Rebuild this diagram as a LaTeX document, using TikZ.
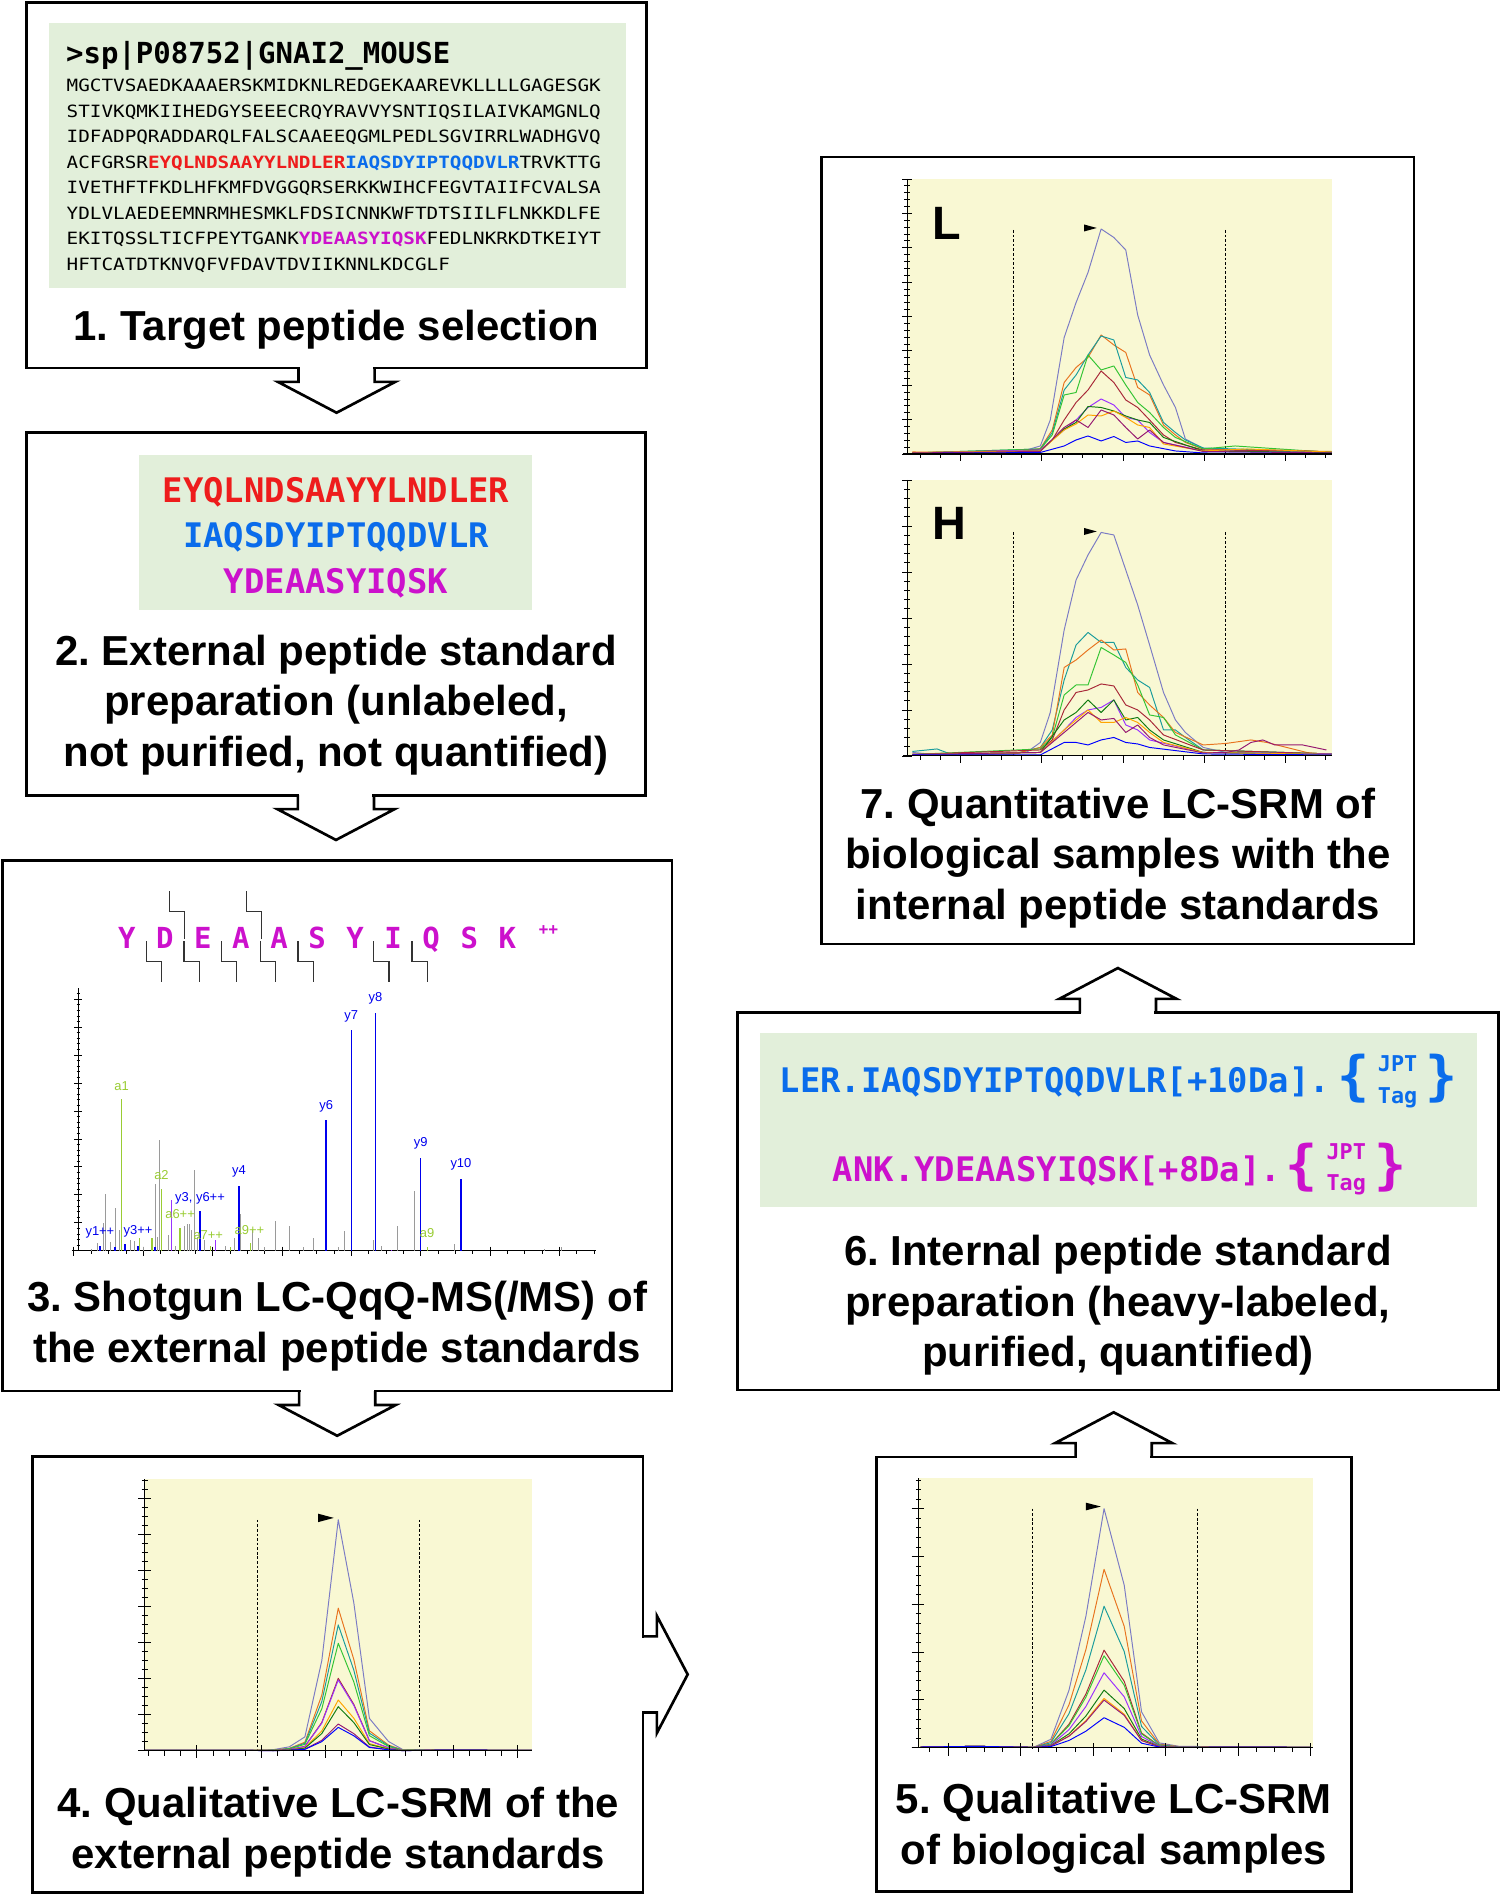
\documentclass[tikz,border=0pt]{standalone}
\usepackage{fontspec}
\setmainfont{Liberation Sans}
\newfontfamily\monofont{DejaVu Sans Mono}
\newfontfamily\seqfont{DejaVu Sans Mono}[FakeStretch=1.14]
\usetikzlibrary{calc}
\frenchspacing

\definecolor{pepred}{HTML}{EE1C1C}
\definecolor{pepblue}{HTML}{0A6CEB}
\definecolor{pepmag}{HTML}{CC11CC}
\definecolor{panelgreen}{HTML}{E2EFDA}
\definecolor{plotyellow}{HTML}{F9F8D3}
\definecolor{ionblue}{HTML}{0000EE}
\definecolor{iongreen}{HTML}{99CC33}
\definecolor{ionpurple}{HTML}{9933FF}
\definecolor{iongray}{HTML}{9A9A9A}
\definecolor{trlav}{HTML}{7B7BC4}
\definecolor{trorange}{HTML}{E8731E}
\definecolor{trteal}{HTML}{1A9C9C}
\definecolor{trgreen}{HTML}{33C433}
\definecolor{trred}{HTML}{A82838}
\definecolor{trpurple}{HTML}{9B30FF}
\definecolor{tryellow}{HTML}{FFA500}
\definecolor{trdkgreen}{HTML}{107A10}
\definecolor{trmag}{HTML}{961870}
\definecolor{trblue}{HTML}{0000FF}

\newcommand{\titlefont}{\fontsize{34.7}{42}\selectfont\bfseries}
% open block arrow leaving a box edge
\newcommand{\flowarrow}[2]{%
  \begin{scope}[shift={(#1)}, rotate=#2]
    \fill[white] (-30.2,-2.5) rectangle (30.2,10);
    \draw[line width=2.2pt, line join=miter] (-31.5,0) -- (-31.5,11.5) -- (-48.5,11.5) -- (0,37) -- (48.5,11.5) -- (31.5,11.5) -- (31.5,0);
  \end{scope}}

\begin{document}
\begin{tikzpicture}[x=1pt, y=-1pt,
  stepbox/.style={draw, line width=2.2pt, anchor=north west, inner sep=0pt, outer sep=0pt},
  steptitle/.style={font=\titlefont, align=center, anchor=north, inner sep=0pt},
  srmtrace/.style={line width=0.8pt, line join=round},
  axisline/.style={line width=0.9pt},
  axtick/.style={line width=0.7pt},
  bound/.style={dash pattern=on 2.2pt off 1.6pt, line width=0.8pt},
  ionlab/.style={font=\fontsize{10.7}{12}\selectfont, inner sep=0pt},
  frag/.style={line width=0.9pt, black!80},
  peplet/.style={font={\fontsize{24}{26}\monofont\bfseries}, text=pepmag, anchor=base, inner sep=0pt},
  brace/.style={font={\fontsize{44}{44}\monofont\bfseries}, anchor=base, inner sep=0pt},
  tagtext/.style={font={\fontsize{18}{26}\monofont\bfseries}, align=center, anchor=north, inner sep=0pt}]

\useasboundingbox (0,0) rectangle (1241,1568);

% step boxes
\node[stepbox, minimum width=513pt, minimum height=302.5pt] (box1) at (22,2) {};
\node[stepbox, minimum width=512pt, minimum height=300pt] (box2) at (22,358) {};
\node[stepbox, minimum width=554pt, minimum height=439pt] (box3) at (2,712) {};
\node[stepbox, minimum width=505pt, minimum height=361pt] (box4) at (27,1205) {};
\node[stepbox, minimum width=393pt, minimum height=359.4pt] (box5) at (725,1205.6) {};
\node[stepbox, minimum width=630pt, minimum height=312pt] (box6) at (610,838) {};
\node[stepbox, minimum width=490pt, minimum height=651pt] (box7) at (680,130) {};

% flow arrows
\flowarrow{box1.south}{0}
\flowarrow{box2.south}{0}
\flowarrow{box3.south}{0}
\flowarrow{box4.east}{90}
\flowarrow{box5.north}{180}
\flowarrow{box6.north}{180}

% 1: protein sequence
\fill[panelgreen] (40.5,19.4) rectangle (517.6,238.2);
\node[anchor=base west, inner sep=0pt, font={\fontsize{24}{26}\monofont\bfseries}] (fasta) at (54.5,52.5) {>sp|P08752|GNAI2\_MOUSE};
\node[anchor=north west, inner sep=0pt, align=left, font={\fontsize{14}{21.1}\seqfont}] (seq) at (55,65.5) {MGCTVSAEDKAAAERSKMIDKNLREDGEKAAREVKLLLLGAGESGK\\
STIVKQMKIIHEDGYSEEECRQYRAVVYSNTIQSILAIVKAMGNLQ\\
IDFADPQRADDARQLFALSCAAEEQGMLPEDLSGVIRRLWADHGVQ\\
ACFGRSR{\bfseries\color{pepred}EYQLNDSAAYYLNDLER}{\bfseries\color{pepblue}IAQSDYIPTQQDVLR}TRVKTTG\\
IVETHFTFKDLHFKMFDVGGQRSERKKWIHCFEGVTAIIFCVALSA\\
YDLVLAEDEEMNRMHESMKLFDSICNNKWFTDTSIILFLNKKDLFE\\
EKITQSSLTICFPEYTGANK{\bfseries\color{pepmag}YDEAASYIQSK}FEDLNKRKDTKEIYT\\
HFTCATDTKNVQFVFDAVTDVIIKNNLKDCGLF};
\node[steptitle] (title1) at (278.5,256.2) {1. Target peptide selection};

% 2: external standards
\fill[panelgreen] (115.4,376.3) rectangle (440,504.8);
\node[anchor=north, inner sep=0pt, align=center, font={\fontsize{28}{37.4}\monofont\bfseries}] (peps) at (278,394.9) {\textcolor{pepred}{EYQLNDSAAYYLNDLER}\\\textcolor{pepblue}{IAQSDYIPTQQDVLR}\\\textcolor{pepmag}{YDEAASYIQSK}};
\node[steptitle] (title2) at (278,525) {2. External peptide standard\\preparation (unlabeled,\\not purified, not quantified)};

% 3: MS/MS spectrum
\begin{scope}[xshift=0.2pt, yshift=-702.4pt, x=0.3586pt, y=-0.2917pt]
  \foreach \aa [count=\i] in {Y,D,E,A,A,S,Y,I,Q,S,K}
    \node[peplet] (aa\i) at ({292+87.8*(\i-1)},282) {\aa};
  \node[font={\fontsize{14}{14}\selectfont\bfseries}, text=pepmag, inner sep=0pt] (charge) at (1265,233) {++};
  \foreach \bx in {337,424,511,600,687,862,950}
    \draw[frag] (\bx,262) -- (\bx,320) -- (\bx+35,320) -- (\bx+35,378);
  \foreach \bx in {390,568}
    \draw[frag] (\bx,120) -- (\bx,178) -- (\bx+35,178) -- (\bx+35,255);
  % axes
  \draw[axisline] (180,395) -- (180,1140);
  \foreach \k in {0,...,46} \draw[axtick] (176,{1140-15.86*\k}) -- (184,{1140-15.86*\k});
  \foreach \k in {0,...,9} \draw[axtick] (171,{1140-79.3*\k}) -- (189,{1140-79.3*\k});
  \draw[axisline] (165,1140) -- (1375,1140);
  \foreach \k in {0,...,30} \draw[axtick] ({170+40*\k},1140) -- ({170+40*\k},1150);
  \foreach \k in {0,...,7} \draw[axtick] ({170+160*\k},1128) -- ({170+160*\k},1155);
  % peaks
  \foreach \px/\py in {243/980,265/1020,239/1060,253/1115,275/1080,300/1110,367/825,357/950,362/1100,387/1095,432/1065,437/1063,442/1080,447/910,455/1100,470/1110,540/1105,555/1035,582/1080,596/1105,610/1130,635/1055,668/1070,700/1130,722/1105,780/1130,795/1085,860/1110,880/1125,917/1070,955/970,1048/1120,1255/1135,1295/1130,210/1135,225/1118,310/1112,330/1128,405/1125,425/1070,520/1125}
    \draw[iongray, line width=0.6pt] (\px,1140) -- (\px,\py);
  \foreach \px/\py in {280/710,372/965,350/1105,322/1105,415/1075,485/1125,577/1118,532/1128,985/1130}
    \draw[iongreen, line width=1pt] (\px,1140) -- (\px,\py);
  \foreach \px/\py in {395/995,497/1108,903/1137}
    \draw[ionpurple, line width=1pt] (\px,1140) -- (\px,\py);
  \foreach \px/\py in {866/465,810/513,752/770,970/876,1063/935,551/955,461/1027,230/1125,265/1130,288/1120,318/1125,357/1130,752/1115}
    \draw[ionblue, line width=1.1pt] (\px,1140) -- (\px,\py);
  % ion labels
  \node[ionlab, text=ionblue] (y8) at (866,425) {y8};
  \node[ionlab, text=ionblue] (y7) at (810,475) {y7};
  \node[ionlab, text=ionblue] (y6) at (752,730) {y6};
  \node[ionlab, text=ionblue] (y9) at (970,835) {y9};
  \node[ionlab, text=ionblue] (y10) at (1063,895) {y10};
  \node[ionlab, text=ionblue] (y4) at (551,915) {y4};
  \node[ionlab, text=ionblue] (y3y6) at (461,990) {y3, y6++};
  \node[ionlab, text=ionblue] (y1) at (230,1088) {y1++};
  \node[ionlab, text=ionblue] (y3) at (318,1085) {y3++};
  \node[ionlab, text=iongreen] (a1) at (280,672) {a1};
  \node[ionlab, text=iongreen] (a2) at (372,925) {a2};
  \node[ionlab, text=iongreen] (a6) at (415,1037) {a6++};
  \node[ionlab, text=iongreen] (a7) at (480,1095) {a7++};
  \node[ionlab, text=iongreen] (a9pp) at (575,1082) {a9++};
  \node[ionlab, text=iongreen] (a9) at (985,1090) {a9};
\end{scope}
\node[steptitle] (title3) at (279,1059.7) {3. Shotgun LC-QqQ-MS(/MS) of\\the external peptide standards};

% 4: qualitative SRM of standards
\begin{scope}[xshift=1.97pt, yshift=-1191.2pt, x=0.3681pt, y=-0.2762pt]
  \fill[plotyellow] (320,118) rectangle (1190,932);
  \draw[bound] (573,240) -- (573,932);
  \draw[bound] (937,240) -- (937,932);
  \foreach \col/\ht in {trlav/692,trorange/427,trteal/377,trgreen/322,trred/217,trpurple/212,tryellow/152,trdkgreen/132,trmag/80,trblue/70}
    \draw[srmtrace,\col] (320,931) -- (540,931) -- (610,{932-0.005*\ht}) -- (645,{932-0.017*\ht}) -- (680,{932-0.06*\ht}) -- (718,{932-0.39*\ht}) -- (755,{932-\ht}) -- (790,{932-0.64*\ht}) -- (825,{932-0.14*\ht}) -- (868,{932-0.04*\ht}) -- (900,{932-0.005*\ht}) -- (1000,930) -- (1190,931);
  \fill (710,222) -- (745,234.5) -- (710,247) -- cycle;
  \draw[axisline] (320,118) -- (320,932);
  \foreach \k in {0,...,30} \draw[axtick] (313,{932-27*\k}) -- (327,{932-27*\k});
  \foreach \k in {0,...,7} \draw[axtick] (305,{932-107.8*\k}) -- (333,{932-107.8*\k});
  \draw[axisline] (305,932) -- (1190,932);
  \foreach \k in {0,...,23} \draw[axtick] ({329+36.08*\k},932) -- ({329+36.08*\k},948);
  \foreach \k in {0,...,5} \draw[axtick] ({437+144.3*\k},915) -- ({437+144.3*\k},955);
\end{scope}
\node[steptitle] (title4) at (280,1478.4) {4. Qualitative LC-SRM of the\\external peptide standards};

% 5: qualitative SRM of samples
\begin{scope}[xshift=711.7pt, yshift=-1190.5pt, x=0.3336pt, y=-0.2754pt]
  \fill[plotyellow] (145,118) rectangle (1122,928);
  \draw[bound] (428,210) -- (428,928);
  \draw[bound] (836,210) -- (836,928);
  \foreach \col/\ht in {trlav/718,trorange/536,trteal/425,trred/293,trgreen/276,trpurple/225,trdkgreen/173,tryellow/148,trmag/143,trblue/90}
    \draw[srmtrace,\col] (150,926) -- (290,924) -- (430,927) -- (473,{928-0.035*\ht}) -- (518,{928-0.24*\ht}) -- (560,{928-0.55*\ht}) -- (605,{928-\ht}) -- (655,{928-0.68*\ht}) -- (698,{928-0.15*\ht}) -- (742,{928-0.02*\ht}) -- (790,{928-0.006*\ht}) -- (930,926) -- (1118,927);
  \fill (560,192) -- (597,203.5) -- (560,215) -- cycle;
  \draw[axisline] (145,118) -- (145,928);
  \foreach \k in {0,...,28} \draw[axtick] (138,{928-28.72*\k}) -- (152,{928-28.72*\k});
  \foreach \k in {0,...,5} \draw[axtick] (128,{928-143.6*\k}) -- (158,{928-143.6*\k});
  \draw[axisline] (128,928) -- (1122,928);
  \foreach \k in {0,...,21} \draw[axtick] ({173+45*\k},928) -- ({173+45*\k},942);
  \foreach \k in {0,...,5} \draw[axtick] ({218+180*\k},915) -- ({218+180*\k},952);
\end{scope}
\node[steptitle] (title5) at (921.5,1475.5) {5. Qualitative LC-SRM\\of biological samples};

% 6: internal standards
\fill[panelgreen] (628.7,854.9) rectangle (1222.5,998.9);
\node[anchor=base west, inner sep=0pt, font={\fontsize{28}{30}\monofont\bfseries}, text=pepblue] (istd1) at (645,904.3) {LER.IAQSDYIPTQQDVLR[+10Da].};
\node[brace, text=pepblue] (lbr1) at (1120,906) {\{};
\node[tagtext, text=pepblue] (tag1) at (1156.4,873.6) {JPT\\Tag};
\node[brace, text=pepblue] (rbr1) at (1193.1,906) {\}};
\node[anchor=base west, inner sep=0pt, font={\fontsize{28}{30}\monofont\bfseries}, text=pepmag] (istd2) at (689,977.5) {ANK.YDEAASYIQSK[+8Da].};
\node[brace, text=pepmag] (lbr2) at (1077,979) {\{};
\node[tagtext, text=pepmag] (tag2) at (1113.9,945.9) {JPT\\Tag};
\node[brace, text=pepmag] (rbr2) at (1150.3,979) {\}};
\node[steptitle] (title6) at (925,1021.7) {6. Internal peptide standard\\preparation (heavy-labeled,\\purified, quantified)};

% 7: quantitative SRM, light and heavy
\begin{scope}[xshift=670.1pt, yshift=-124.1pt, x=0.3288pt, y=-0.4137pt]
  \fill[plotyellow] (245,58) rectangle (1313,608);
  \fill[plotyellow] (245,660) rectangle (1313,1212);
  \foreach \yb in {608,1212} {
    \draw[bound] (513,\yb-448) -- (513,\yb);
    \draw[bound] (1047,\yb-448) -- (1047,\yb);
  }
  % light
  \draw[srmtrace,trlav] plot coordinates {(258,606) (513,604) (545,600) (580,592) (605,540) (640,375) (670,305) (700,245) (733,158) (765,175) (795,200) (825,330) (855,410) (890,470) (920,515) (945,578) (990,597) (1047,600) (1100,603) (1200,600) (1313,605)};
  \draw[srmtrace,trorange] plot coordinates {(258,604) (513,605) (580,597) (610,560) (640,465) (670,435) (700,415) (733,370) (765,390) (795,405) (825,475) (855,490) (890,550) (920,570) (945,585) (990,598) (1100,600) (1313,603)};
  \draw[srmtrace,trteal] plot coordinates {(258,606) (580,598) (610,565) (640,480) (670,450) (700,410) (733,372) (765,380) (795,455) (825,460) (855,485) (890,545) (920,565) (945,580) (990,596) (1313,604)};
  \draw[srmtrace,trgreen] plot coordinates {(258,606) (580,598) (610,570) (640,490) (670,485) (700,410) (733,440) (765,432) (795,470) (825,505) (855,525) (890,555) (920,575) (990,598) (1070,592) (1313,605)};
  \draw[srmtrace,trred] plot coordinates {(258,606) (580,600) (610,580) (640,540) (670,505) (700,480) (733,442) (765,465) (795,500) (825,515) (855,540) (890,570) (920,585) (990,600) (1250,602) (1313,605)};
  \draw[srmtrace,trpurple] plot coordinates {(258,606) (580,600) (640,560) (670,540) (700,515) (733,498) (765,510) (795,535) (825,540) (855,565) (890,585) (990,602) (1313,605)};
  \draw[srmtrace,trdkgreen] plot coordinates {(258,606) (580,602) (640,558) (670,545) (700,513) (733,515) (765,522) (795,532) (825,540) (855,545) (890,575) (990,602) (1313,605)};
  \draw[srmtrace,tryellow] plot coordinates {(258,605) (580,602) (640,560) (670,548) (700,530) (733,532) (765,522) (795,535) (825,550) (855,555) (890,588) (990,602) (1100,598) (1313,604)};
  \draw[srmtrace,trmag] plot coordinates {(258,606) (580,603) (640,555) (670,540) (700,555) (733,520) (765,530) (795,555) (825,578) (855,560) (890,585) (990,603) (1313,606)};
  \draw[srmtrace,trblue] plot coordinates {(258,607) (580,605) (640,592) (670,580) (700,572) (733,582) (765,573) (795,585) (825,582) (855,592) (920,602) (990,606) (1313,607)};
  % heavy
  \draw[srmtrace,trlav] plot coordinates {(258,1205) (300,1208) (513,1206) (545,1205) (580,1185) (605,1125) (640,960) (670,860) (700,810) (733,765) (765,770) (795,840) (825,910) (855,990) (890,1085) (920,1140) (945,1165) (990,1195) (1047,1205) (1313,1208)};
  \draw[srmtrace,trteal] plot coordinates {(258,1203) (320,1198) (360,1210) (513,1208) (580,1195) (610,1160) (640,1060) (670,990) (700,965) (733,985) (765,985) (795,1035) (825,1060) (855,1075) (890,1160) (920,1160) (945,1175) (990,1200) (1313,1208)};
  \draw[srmtrace,trorange] plot coordinates {(258,1209) (513,1208) (580,1195) (610,1170) (640,1035) (670,1020) (700,1000) (733,980) (765,1000) (795,998) (825,1085) (855,1110) (890,1135) (920,1165) (990,1190) (1047,1187) (1110,1180) (1150,1185) (1200,1195) (1250,1205) (1313,1210)};
  \draw[srmtrace,trgreen] plot coordinates {(258,1209) (580,1198) (610,1175) (640,1090) (670,1070) (700,1070) (733,995) (765,1010) (795,1025) (825,1070) (855,1130) (890,1135) (920,1170) (990,1200) (1313,1208)};
  \draw[srmtrace,trred] plot coordinates {(258,1209) (580,1200) (610,1180) (640,1120) (670,1085) (700,1080) (733,1068) (765,1072) (795,1110) (825,1120) (855,1140) (890,1170) (990,1200) (1313,1208)};
  \draw[srmtrace,trpurple] plot coordinates {(258,1209) (580,1205) (640,1160) (670,1135) (700,1120) (733,1115) (765,1100) (795,1150) (825,1160) (855,1180) (990,1205) (1313,1208)};
  \draw[srmtrace,trdkgreen] plot coordinates {(258,1209) (580,1205) (640,1140) (670,1125) (700,1100) (733,1125) (765,1100) (795,1140) (825,1135) (855,1160) (890,1180) (990,1205) (1313,1209)};
  \draw[srmtrace,tryellow] plot coordinates {(258,1209) (580,1205) (640,1160) (670,1140) (700,1120) (733,1145) (765,1145) (795,1135) (825,1145) (855,1165) (890,1185) (990,1205) (1313,1209)};
  \draw[srmtrace,trmag] plot coordinates {(258,1209) (580,1205) (640,1165) (670,1145) (700,1125) (733,1140) (765,1137) (795,1165) (825,1150) (855,1175) (890,1190) (990,1206) (1047,1205) (1080,1200) (1110,1185) (1140,1180) (1170,1190) (1240,1190) (1300,1200)};
  \draw[srmtrace,trblue] plot coordinates {(258,1210) (580,1210) (640,1185) (670,1185) (700,1190) (733,1180) (765,1175) (795,1185) (825,1188) (855,1195) (990,1208) (1313,1210)};
  % apex markers
  \fill (690,149) -- (722,156) -- (690,163) -- cycle;
  \fill (690,756) -- (722,763) -- (690,770) -- cycle;
  % axes
  \foreach \yb/\yt/\ym/\yM/\nm/\nM in {608/58/13.75/68.75/40/8, 1212/660/18.4/92/30/6} {
    \draw[axisline] (245,\yt) -- (245,\yb);
    \foreach \k in {0,...,\nm} \draw[axtick] (238,{\yb-\ym*\k}) -- (252,{\yb-\ym*\k});
    \foreach \k in {0,...,\nM} \draw[axtick] (232,{\yb-\yM*\k}) -- (258,{\yb-\yM*\k});
    \draw[axisline] (235,\yb) -- (1313,\yb);
    \foreach \k in {0,...,20} \draw[axtick] ({278+51*\k},\yb) -- ({278+51*\k},\yb+8);
    \foreach \k in {0,...,4} \draw[axtick] ({380+204*\k},\yb) -- ({380+204*\k},\yb+15);
  }
  \node[anchor=north west, inner sep=0pt, font={\fontsize{38.7}{40}\selectfont\bfseries}] (light) at (308,115) {L};
  \node[anchor=north west, inner sep=0pt, font={\fontsize{38.7}{40}\selectfont\bfseries}] (heavy) at (308,715) {H};
\end{scope}
\node[steptitle] (title7) at (925,651.6) {7. Quantitative LC-SRM of\\biological samples with the\\internal peptide standards};

\end{tikzpicture}
\end{document}
